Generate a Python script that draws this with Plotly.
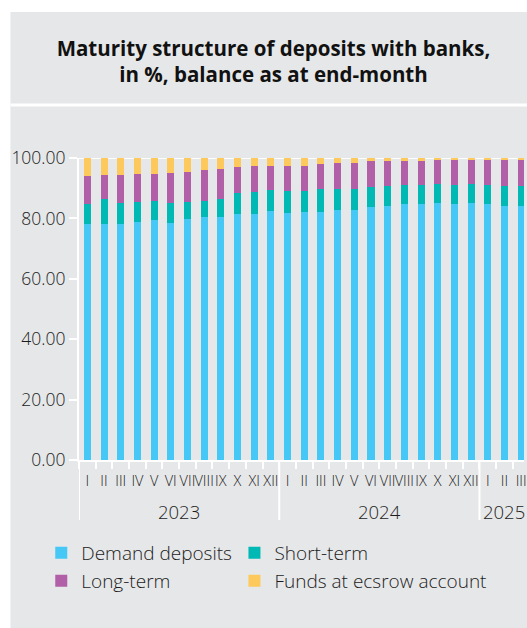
import plotly.graph_objects as go

# ---- data -----------------------------------------------------------------
years = ["2023"] * 12 + ["2024"] * 12 + ["2025"] * 3
months = ["I", "II", "III", "IV", "V", "VI", "VII", "VIII", "IX", "X", "XI", "XII"] * 2 + ["I", "II", "III"]

demand = [78.0, 78.0, 78.0, 78.8, 79.5, 78.6, 79.7, 80.5, 80.5, 81.3, 81.6, 82.6,
          81.9, 82.2, 82.2, 82.9, 82.8, 83.9, 84.0, 84.8, 84.8, 85.1, 84.9, 85.2,
          84.8, 84.2, 84.1]
short_term = [6.9, 8.3, 7.0, 6.5, 6.2, 6.4, 5.7, 5.4, 5.9, 7.0, 7.0, 6.7,
              7.3, 6.9, 7.4, 6.8, 7.0, 6.4, 6.6, 6.3, 6.3, 6.3, 6.3, 6.2,
              6.3, 6.6, 6.7]
long_term = [9.1, 8.2, 9.5, 9.5, 9.1, 10.0, 10.0, 10.1, 10.1, 8.7, 8.9, 8.2,
             8.3, 8.4, 8.5, 8.7, 8.7, 8.6, 8.5, 8.0, 8.0, 7.8, 8.0, 7.9,
             8.3, 8.5, 8.6]
escrow = [6.0, 5.5, 5.5, 5.2, 5.2, 5.0, 4.6, 4.0, 3.5, 3.0, 2.5, 2.5,
          2.5, 2.5, 1.9, 1.6, 1.5, 1.1, 0.9, 0.9, 0.9, 0.8, 0.8, 0.7,
          0.6, 0.7, 0.6]

series_names = ["Demand deposits", "Short-term", "Long-term", "Funds at ecsrow account"]
series_colors = ["#45c8f5", "#00b9b4", "#b15fa6", "#fec95c"]
series_values = [demand, short_term, long_term, escrow]

y_ticks = [0, 20, 40, 60, 80, 100]

title_text = "Maturity structure of deposits with banks,<br>in %, balance as at end-month"

# ---- layout constants --------------------------------------------------------
W, H = 527, 628
ML, MR, MT, MB = 79, 0, 158, 168
PW, PH = W - ML - MR, H - MT - MB
PANEL = "#e6e7e8"
FONT = "Open Sans"
TXT = "#1c1c1c"
LIGHT = 300


def px_x(p):
    return (p - ML) / PW


def px_y(p):
    return (H - MB - p) / PH


cats = [f"{m} {y}" for m, y in zip(months, years)]

# legend slots (pixel positions of each entry: left, row centre)
legend_slots = [(41, 553), (235.5, 553), (41, 581), (235.5, 581)]
legend_ids = ["legend", "legend2", "legend3", "legend4"]

fig = go.Figure()
for name, color, vals, lid in zip(series_names, series_colors, series_values, legend_ids):
    fig.add_trace(go.Bar(x=cats, y=vals, name=name, legend=lid,
                         marker=dict(color=color, line=dict(width=0))))

# year groups
groups = []
for i, y in enumerate(years):
    if not groups or groups[-1][0] != y:
        groups.append([y, i, i])
    else:
        groups[-1][2] = i

shapes = [
    # white page border strips & separator
    dict(type="rect", xref="paper", yref="paper", x0=px_x(0), x1=px_x(W + 5), y0=px_y(12), y1=px_y(-5),
         fillcolor="white", line=dict(width=0), layer="below"),
    dict(type="rect", xref="paper", yref="paper", x0=px_x(-5), x1=px_x(10), y0=px_y(H + 5), y1=px_y(-5),
         fillcolor="white", line=dict(width=0), layer="below"),
    dict(type="rect", xref="paper", yref="paper", x0=px_x(10), x1=px_x(W + 5), y0=px_y(106.5), y1=px_y(103.5),
         fillcolor="white", line=dict(width=0), layer="below"),
    # top line at 100
    dict(type="line", xref="paper", yref="y", x0=px_x(72), x1=1, y0=100, y1=100,
         line=dict(color="white", width=2), layer="below"),
]
annotations = []
for y, a, b in groups:
    shapes.append(dict(type="line", xref="x", yref="paper", x0=a - 0.5, x1=a - 0.5,
                       y0=0, y1=px_y(520), line=dict(color="white", width=2), layer="below"))
    annotations.append(dict(x=(a + b) / 2, y=px_y(511), xref="x", yref="paper", text=y,
                            showarrow=False, xanchor="center", yanchor="middle",
                            font=dict(family=FONT, size=18.5, color=TXT, weight=LIGHT)))

legend_layouts = {}
for lid, (lx, ly) in zip(legend_ids, legend_slots):
    legend_layouts[lid] = dict(x=px_x(lx), xanchor="left", y=px_y(ly), yanchor="middle",
                               font=dict(family=FONT, size=19, color=TXT, weight=LIGHT),
                               bgcolor="rgba(0,0,0,0)", borderwidth=0)

fig.update_layout(
    width=W, height=H,
    margin=dict(l=ML, r=MR, t=MT, b=MB, pad=0),
    paper_bgcolor=PANEL, plot_bgcolor=PANEL,
    barmode="stack", bargap=0.58,
    font=dict(family=FONT, color=TXT),
    title=dict(text=title_text, xref="container", yref="container",
               x=273.5 / W, y=1 - 55.5 / H, xanchor="center", yanchor="middle",
               font=dict(family=FONT, size=20.5, color="#111111", weight="bold")),
    xaxis=dict(type="category", range=[-0.5, 26.17], tickmode="array", tickvals=cats, ticktext=months,
               tickson="boundaries", ticks="outside", ticklen=7, tickwidth=2, tickcolor="white",
               ticklabelstandoff=7,
               showline=True, linecolor="white", linewidth=2, showgrid=False, zeroline=False,
               tickangle=0, tickfont=dict(family=FONT, size=14.5, color=TXT, weight=LIGHT)),
    yaxis=dict(range=[0, 100], tickvals=y_ticks, tickformat=".2f", ticks="outside", ticklen=8,
               tickwidth=2, tickcolor="white", showline=True, linecolor="white", linewidth=2,
               showgrid=False, zeroline=False, tickfont=dict(family=FONT, size=17.5, color=TXT, weight=LIGHT)),
    shapes=shapes, annotations=annotations,
    showlegend=True,
    **legend_layouts,
)

fig.write_html("out.html", config={"displayModeBar": False},
               post_script="document.body.style.margin='0';document.body.style.overflow='hidden';")
